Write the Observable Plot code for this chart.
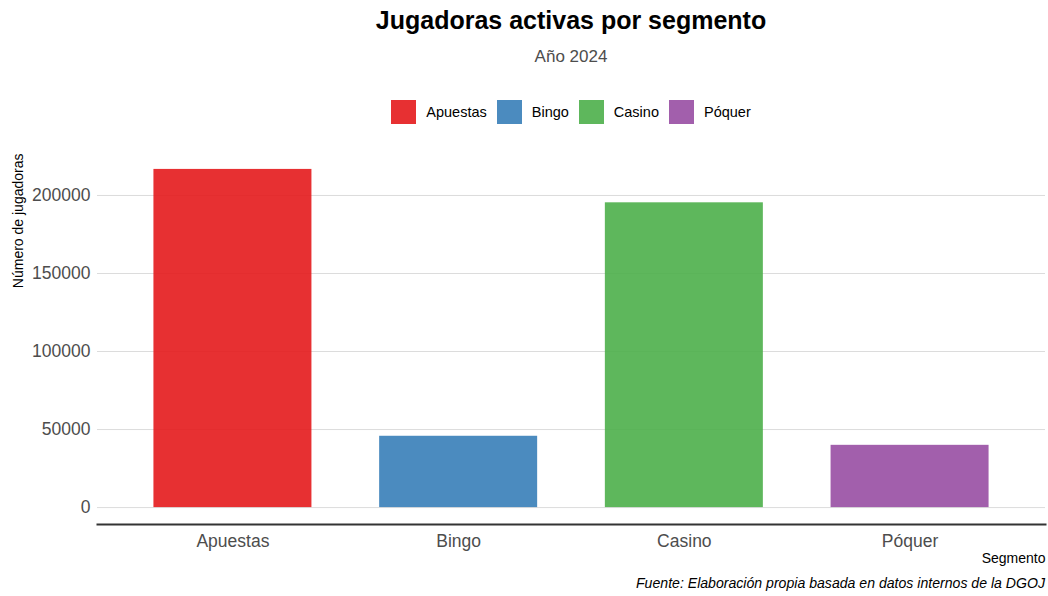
<!DOCTYPE html>
<html>
<head>
<meta charset="utf-8">
<script src="https://cdn.jsdelivr.net/npm/d3@7"></script>
<script src="https://cdn.jsdelivr.net/npm/@observablehq/plot@0.6"></script>
<style>
  html, body { margin: 0; padding: 0; background: #fff; }
  body { width: 1048px; height: 596px; overflow: hidden; font-family: "Liberation Sans", Arial, sans-serif; }
  #header { position: relative; height: 140px; width: 1048px; }
  #title { position: absolute; left: 97px; width: 948px; top: 5px; line-height: 30px; text-align: center; font-weight: bold; font-size: 25px; color: #000; }
  #subtitle { position: absolute; left: 97px; width: 948px; top: 46px; line-height: 22px; text-align: center; font-size: 17px; color: #4d4d4d; }
  #legend { position: absolute; left: 97px; width: 948px; top: 100px; height: 24px; display: flex; justify-content: center; align-items: center; font-size: 14.5px; color: #000; }
  .item { display: flex; align-items: center; margin: 0 5px; }
  .sw { width: 25px; height: 24px; margin-right: 10px; }
  #chart { height: 430px; }
  #caption { height: 26px; line-height: 26px; width: 1045px; text-align: right; font-style: italic; font-size: 14.1px; color: #000; }
</style>
</head>
<body>
<div id="header">
  <div id="title"></div>
  <div id="subtitle"></div>
  <div id="legend"></div>
</div>
<div id="chart"></div>
<div id="caption"></div>
<script>
const titleText = "Jugadoras activas por segmento";
const subtitleText = "Año 2024";
const captionText = "Fuente: Elaboración propia basada en datos internos de la DGOJ";
const yLabel = "Número de jugadoras";
const xLabel = "Segmento";
const categories = ["Apuestas", "Bingo", "Casino", "Póquer"];
const values = [216700, 45700, 195300, 39900];
const colors = ["#E41A1C", "#377EB8", "#4DAF4A", "#984EA3"];
const yTicks = [0, 50000, 100000, 150000, 200000];

document.getElementById("title").textContent = titleText;
document.getElementById("subtitle").textContent = subtitleText;
document.getElementById("caption").textContent = captionText;

const legend = document.getElementById("legend");
categories.forEach((c, i) => {
  const item = document.createElement("div");
  item.className = "item";
  const sw = document.createElement("div");
  sw.className = "sw";
  sw.style.background = colors[i];
  sw.style.opacity = 0.9;
  const lab = document.createElement("span");
  lab.textContent = c;
  item.appendChild(sw);
  item.appendChild(lab);
  legend.appendChild(item);
});

const data = categories.map((c, i) => ({segment: c, value: values[i]}));
const maxV = d3.max(values);
const yDomain = [-0.05 * maxV, 1.05 * maxV];

const chart = Plot.plot({
  width: 1048,
  height: 430,
  marginLeft: 97,
  marginRight: 3,
  marginTop: 12,
  marginBottom: 46,
  style: {fontFamily: "'Liberation Sans', Arial, sans-serif", fontSize: "17.5px", color: "#4d4d4d", background: "#fff"},
  x: {domain: categories, paddingInner: 0.3, paddingOuter: 0.25, round: false, label: null},
  y: {domain: yDomain, label: null},
  color: {domain: categories, range: colors},
  marks: [
    Plot.gridY(yTicks, {stroke: "#dcdcdc", strokeOpacity: 1, strokeWidth: 1}),
    Plot.barY(data, {x: "segment", y: "value", fill: "segment", fillOpacity: 0.9}),
    Plot.frame({anchor: "bottom", stroke: "#333", strokeWidth: 2}),
    Plot.axisY(yTicks, {tickSize: 0, tickPadding: 7, label: null, tickFormat: d => String(d), fill: "#4d4d4d"}),
    Plot.axisX({tickSize: 0, tickPadding: 10, label: null, fill: "#4d4d4d"}),
    Plot.text([yLabel], {frameAnchor: "top-left", rotate: -90, textAnchor: "end", lineAnchor: "middle", dx: -79, dy: 1, fontSize: 14, fill: "#000"}),
    Plot.text([xLabel], {frameAnchor: "bottom-right", textAnchor: "end", lineAnchor: "middle", dy: 34, fontSize: 14, fill: "#000"})
  ]
});
document.getElementById("chart").appendChild(chart);
</script>
</body>
</html>
